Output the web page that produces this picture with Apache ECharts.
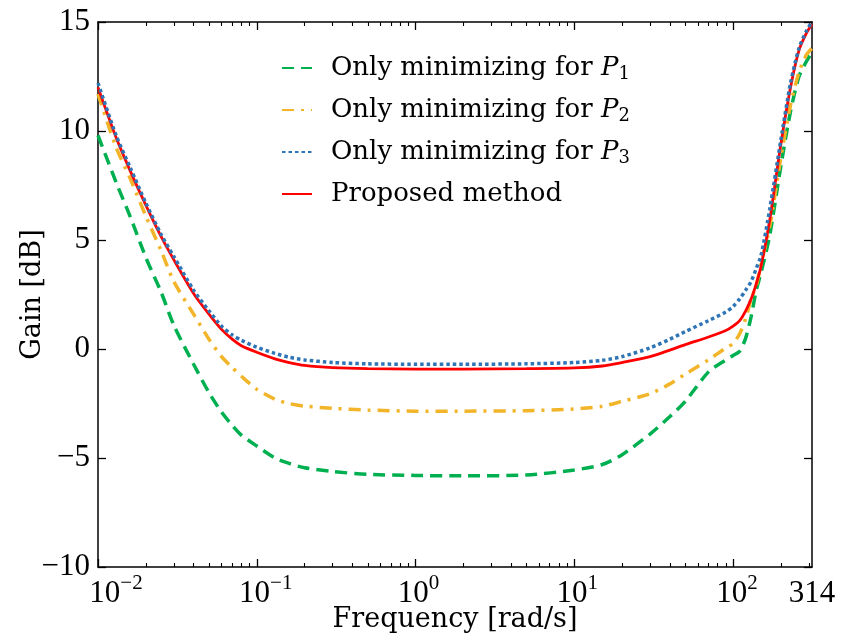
<!DOCTYPE html>
<html>
<head>
<meta charset="utf-8">
<script src="https://cdn.jsdelivr.net/npm/echarts@6/dist/echarts.min.js"></script>
<style>
html,body{margin:0;padding:0;background:#fff;}
#chart{width:841px;height:640px;}
</style>
</head>
<body>
<div id="chart"></div>
<script>
// ---- data ----
const freq = [0.01,0.013,0.016,0.02,0.025,0.03,0.04,0.05,0.06,0.07,
              0.08,0.1,0.13,0.16,0.2,0.3,0.5,1,2,5,
              10,15,20,30,40,50,70,90,100,110,
              120,130,140,150,170,200,230,260,290,314];
const gainP1 = [9.8,7.65,6.05,4.2,2.6,1.1,-0.7,-2.0,-2.9,-3.5,
                -3.95,-4.45,-5.0,-5.25,-5.45,-5.62,-5.75,-5.8,-5.82,-5.78,
                -5.55,-5.3,-4.85,-3.9,-3.1,-2.4,-1.05,-0.5,-0.3,-0.1,
                0.5,1.5,2.7,3.5,5.2,8.4,10.9,12.5,13.2,13.6];
const gainP2 = [11.7,9.25,7.8,6.1,4.5,3.1,1.6,0.45,-0.35,-0.85,
                -1.25,-1.85,-2.3,-2.5,-2.62,-2.72,-2.8,-2.85,-2.85,-2.83,
                -2.75,-2.63,-2.4,-2.05,-1.6,-1.15,-0.5,0.05,0.25,0.7,
                1.4,2.3,2.9,3.9,5.6,8.8,11.2,12.7,13.5,13.8];
const gainP3 = [12.2,9.8,8.3,6.7,5.25,4.25,2.7,1.75,1.05,0.65,
                0.4,0.08,-0.2,-0.38,-0.5,-0.62,-0.68,-0.7,-0.7,-0.68,
                -0.62,-0.52,-0.35,0.05,0.45,0.8,1.3,1.7,1.95,2.3,
                2.7,3.1,3.7,4.3,6.4,9.6,12.2,13.8,14.6,15.0];
const gainProposed = [12.0,9.7,8.15,6.6,5.15,4.1,2.55,1.6,0.9,0.45,
                0.15,-0.15,-0.45,-0.62,-0.75,-0.85,-0.9,-0.92,-0.92,-0.9,
                -0.87,-0.78,-0.62,-0.35,-0.05,0.2,0.55,0.85,1.05,1.3,
                1.75,2.3,3.0,3.8,5.9,9.4,12.0,13.7,14.5,14.9];
const seriesNames = ['Only minimizing for P1','Only minimizing for P2','Only minimizing for P3','Proposed method'];
const xMajorTicks = [0.01,0.1,1,10,100];
const xMinorTicks = [0.02,0.03,0.04,0.05,0.06,0.07,0.08,0.09,
                     0.2,0.3,0.4,0.5,0.6,0.7,0.8,0.9,
                     2,3,4,5,6,7,8,9,
                     20,30,40,50,60,70,80,90,
                     200,300];
const xLabelValues = [0.01,0.1,1,10,100,314];
const xLabelBase = ['10','10','10','10','10','314'];
const xLabelExp = ['−2','−1','0','1','2',''];
const xLabelShift = [36,18,6,6,8,0];
const yTicks = {min:-10,max:15,interval:5};

// ---- chart ----
const chart = echarts.init(document.getElementById('chart'), null, {renderer:'canvas'});
const SERIF = 'DejaVu Serif';
const NUMF = 'Liberation Serif';

function pairs(vals){ return freq.map((f,i)=>[f, vals[i]]); }

function xLabelFmt(v){
  let idx = -1;
  for (let i=0;i<xLabelValues.length;i++){
    if (Math.abs(Math.log10(v) - Math.log10(xLabelValues[i])) < 1e-6) idx = i;
  }
  if (idx < 0) return '';
  let s = '';
  if (xLabelShift[idx] > 0) s += '{sp' + xLabelShift[idx] + '| }';
  s += '{b|' + xLabelBase[idx] + '}';
  if (xLabelExp[idx]) s += '{e|' + xLabelExp[idx] + '}';
  return s;
}
const richX = {
  b:{fontFamily:NUMF,fontSize:31,lineHeight:36,color:'#000',verticalAlign:'bottom'},
  e:{fontFamily:NUMF,fontSize:21,lineHeight:16,color:'#000',verticalAlign:'top'}
};
xLabelShift.forEach(w=>{ if (w>0) richX['sp'+w] = {width:w, fontSize:10}; });

const baseX = {type:'log', logBase:10, min:0.01, max:314, gridIndex:0, splitLine:{show:false}};
const lineCol = '#000';

const option = {
  backgroundColor:'#fff',
  animation:false,
  grid:{left:98,right:29,top:22,bottom:73,containLabel:false,outerBoundsMode:'none'},
  legend:{
    orient:'vertical', left:276, top:50,
    itemWidth:30, itemHeight:14, itemGap:14,
    data:seriesNames,
    itemStyle:{opacity:0},
    formatter:function(name){
      if (name.indexOf('Only')===0){
        return '{t|Only minimizing for }{p|P}{s|' + name.slice(-1) + '}';
      }
      return '{t|' + name + '}';
    },
    textStyle:{
      padding:[0,0,0,14],
      rich:{
        t:{fontFamily:SERIF,fontSize:26,lineHeight:30,color:'#000'},
        p:{fontFamily:SERIF,fontSize:26,lineHeight:30,fontStyle:'italic',color:'#000'},
        s:{fontFamily:SERIF,fontSize:18,lineHeight:16,verticalAlign:'bottom',color:'#000'}
      }
    }
  },
  xAxis:[
    Object.assign({}, baseX, {
      position:'bottom',
      name:'Frequency [rad/s]', nameLocation:'middle', nameGap:39, nameMoveOverlap:false,
      nameTextStyle:{fontFamily:SERIF,fontSize:27,color:'#000'},
      axisLine:{show:true,onZero:false,lineStyle:{color:lineCol,width:1.5}},
      axisTick:{show:true,inside:true,length:8,customValues:xMajorTicks,lineStyle:{color:lineCol,width:1.3}},
      axisLabel:{show:true,customValues:xLabelValues,margin:6,formatter:xLabelFmt,rich:richX}
    }),
    Object.assign({}, baseX, {
      position:'bottom',
      axisLine:{show:false,onZero:false},
      axisTick:{show:true,inside:true,length:4,customValues:xMinorTicks,lineStyle:{color:lineCol,width:1.1}},
      axisLabel:{show:false}
    }),
    Object.assign({}, baseX, {
      position:'top',
      axisLine:{show:true,onZero:false,lineStyle:{color:lineCol,width:1.5}},
      axisTick:{show:true,inside:true,length:8,customValues:xMajorTicks,lineStyle:{color:lineCol,width:1.3}},
      axisLabel:{show:false}
    }),
    Object.assign({}, baseX, {
      position:'top',
      axisLine:{show:false,onZero:false},
      axisTick:{show:true,inside:true,length:4,customValues:xMinorTicks,lineStyle:{color:lineCol,width:1.1}},
      axisLabel:{show:false}
    })
  ],
  yAxis:[
    {
      type:'value', min:yTicks.min, max:yTicks.max, interval:yTicks.interval, position:'left',
      name:'Gain [dB]', nameLocation:'middle', nameGap:52, nameRotate:90, nameMoveOverlap:false,
      nameTextStyle:{fontFamily:SERIF,fontSize:27,color:'#000'},
      splitLine:{show:false},
      axisLine:{show:true,onZero:false,lineStyle:{color:lineCol,width:1.5}},
      axisTick:{show:true,inside:true,length:8,lineStyle:{color:lineCol,width:1.3}},
      axisLabel:{fontFamily:NUMF,fontSize:31,color:'#000',margin:8,
        formatter:function(v){ return String(v).replace('-', '−'); }}
    },
    {
      type:'value', min:yTicks.min, max:yTicks.max, interval:yTicks.interval, position:'right',
      splitLine:{show:false},
      axisLine:{show:true,onZero:false,lineStyle:{color:lineCol,width:1.5}},
      axisTick:{show:true,inside:true,length:8,lineStyle:{color:lineCol,width:1.3}},
      axisLabel:{show:false}
    }
  ],
  series:[
    {name:seriesNames[0], type:'line', data:pairs(gainP1), symbol:'none', smooth:0.25, z:2,
     lineStyle:{color:'#00b050', width:3.5, type:[12,7]}, itemStyle:{color:'#00b050'}},
    {name:seriesNames[1], type:'line', data:pairs(gainP2), symbol:'none', smooth:0.25, z:3,
     lineStyle:{color:'#f2b428', width:3.5, type:[12,7,3,7]}, itemStyle:{color:'#f2b428'}},
    {name:seriesNames[2], type:'line', data:pairs(gainP3), symbol:'none', smooth:0.25, z:5,
     lineStyle:{color:'#2e75b6', width:3.5, type:[3.5,3]}, itemStyle:{color:'#2e75b6'}},
    {name:seriesNames[3], type:'line', data:pairs(gainProposed), symbol:'none', smooth:0.25, z:4,
     lineStyle:{color:'#ff0000', width:2.8, type:'solid'}, itemStyle:{color:'#ff0000'}}
  ]
};
chart.setOption(option);
</script>
</body>
</html>
